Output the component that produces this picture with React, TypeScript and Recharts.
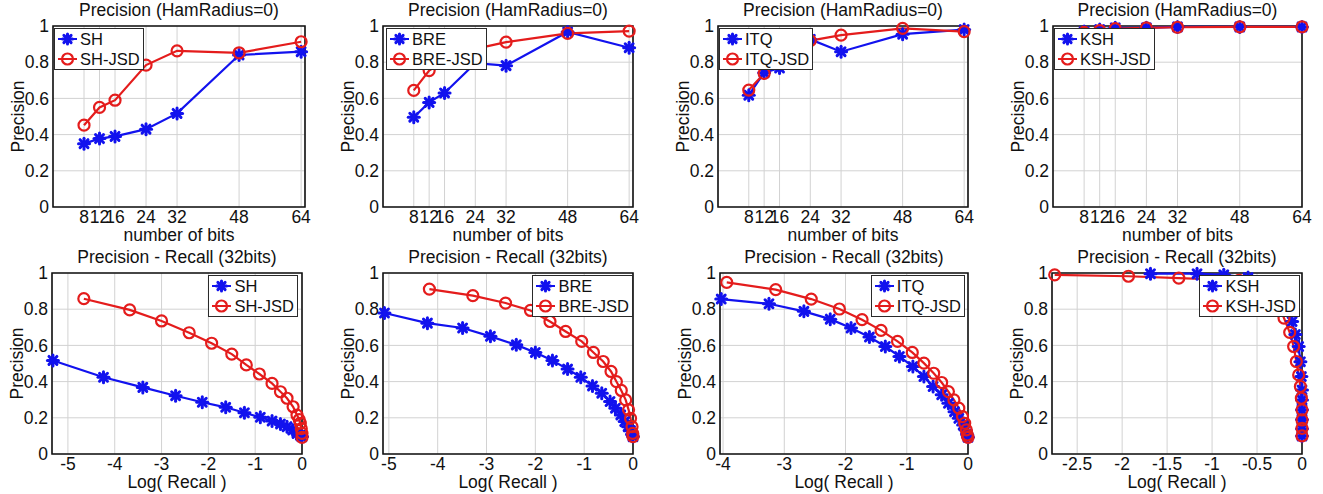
import React from 'react';
import { LineChart, Line, XAxis, YAxis, CartesianGrid, Legend, ReferenceArea } from 'recharts';

// ---- top row: precision vs number of bits (Hamming radius 0) ----
const BITS = [8, 12, 16, 24, 32, 48, 64];
const SH = [0.35, 0.378, 0.39, 0.43, 0.517, 0.84, 0.858];
const SH_JSD = [0.452, 0.55, 0.59, 0.784, 0.863, 0.852, 0.913];
const BRE = [0.496, 0.578, 0.63, 0.795, 0.781, 0.967, 0.88];
const BRE_JSD = [0.644, 0.754, 0.81, 0.874, 0.911, 0.959, 0.972];
const ITQ = [0.618, 0.742, 0.768, 0.926, 0.858, 0.955, 0.98];
const ITQ_JSD = [0.646, 0.738, 0.85, 0.919, 0.95, 0.987, 0.969];
const KSH = [0.97, 0.98, 0.99, 0.99, 0.995, 0.995, 0.995];
const KSH_JSD = [0.965, 0.975, 0.985, 0.99, 0.993, 0.995, 0.995];

// ---- bottom row: precision vs log(recall), 32 bits ----
const SH_PR_X = [-5.32, -4.24, -3.4, -2.7, -2.13, -1.63, -1.23, -0.89, -0.64, -0.46, -0.32, -0.2, -0.107, -0.036, -0.01, 0];
const SH_PR_Y = [0.517, 0.424, 0.368, 0.322, 0.286, 0.258, 0.228, 0.203, 0.182, 0.166, 0.151, 0.133, 0.114, 0.104, 0.098, 0.095];
const SH_JSD_PR_X = [-4.66, -3.68, -3.0, -2.41, -1.93, -1.5, -1.19, -0.91, -0.64, -0.46, -0.32, -0.19, -0.107, -0.06, -0.036, -0.015, 0, 0];
const SH_JSD_PR_Y = [0.858, 0.796, 0.735, 0.67, 0.612, 0.552, 0.492, 0.442, 0.39, 0.344, 0.308, 0.261, 0.215, 0.19, 0.17, 0.14, 0.114, 0.092];

const BRE_PR_X = [-5.09, -4.21, -3.49, -2.92, -2.39, -2.0, -1.65, -1.34, -1.07, -0.83, -0.64, -0.47, -0.36, -0.25, -0.17, -0.1, -0.05, -0.014, 0];
const BRE_PR_Y = [0.779, 0.723, 0.696, 0.65, 0.603, 0.561, 0.517, 0.469, 0.424, 0.376, 0.336, 0.29, 0.253, 0.216, 0.179, 0.151, 0.129, 0.111, 0.096];
const BRE_JSD_PR_X = [-4.17, -3.28, -2.61, -2.1, -1.7, -1.38, -1.05, -0.81, -0.61, -0.45, -0.34, -0.24, -0.15, -0.09, -0.05, -0.02, -0.007, 0];
const BRE_JSD_PR_Y = [0.911, 0.875, 0.834, 0.793, 0.732, 0.677, 0.622, 0.561, 0.511, 0.456, 0.4, 0.351, 0.299, 0.244, 0.197, 0.151, 0.114, 0.096];

const ITQ_PR_X = [-4.03, -3.25, -2.68, -2.25, -1.91, -1.61, -1.35, -1.12, -0.9, -0.72, -0.57, -0.43, -0.32, -0.22, -0.15, -0.08, -0.04, -0.01, 0];
const ITQ_PR_Y = [0.856, 0.83, 0.788, 0.745, 0.696, 0.646, 0.594, 0.539, 0.483, 0.428, 0.373, 0.327, 0.28, 0.234, 0.197, 0.16, 0.133, 0.105, 0.092];
const ITQ_JSD_PR_X = [-3.94, -3.14, -2.56, -2.1, -1.73, -1.42, -1.15, -0.91, -0.72, -0.56, -0.43, -0.32, -0.23, -0.15, -0.09, -0.054, -0.027, -0.01, 0];
const ITQ_JSD_PR_Y = [0.948, 0.908, 0.856, 0.801, 0.742, 0.683, 0.622, 0.561, 0.502, 0.446, 0.395, 0.345, 0.299, 0.253, 0.207, 0.17, 0.133, 0.105, 0.092];

const KSH_PR_X = [-1.685, -1.167, -0.87, -0.6, -0.35, -0.2, -0.11, -0.074, -0.037, -0.018, -0.007, 0, 0, 0, 0, 0, 0];
const KSH_PR_Y = [0.996, 0.996, 0.99, 0.975, 0.93, 0.83, 0.732, 0.66, 0.594, 0.51, 0.428, 0.354, 0.299, 0.244, 0.19, 0.14, 0.1];
const KSH_JSD_PR_X = [-2.75, -1.93, -1.37, -0.7, -0.45, -0.3, -0.2, -0.137, -0.093, -0.063, -0.037, -0.018, -0.007, 0, 0, 0, 0];
const KSH_JSD_PR_Y = [0.99, 0.982, 0.972, 0.96, 0.93, 0.86, 0.751, 0.672, 0.594, 0.511, 0.437, 0.373, 0.308, 0.244, 0.188, 0.142, 0.1];

const Y_TICKS = [0, 0.2, 0.4, 0.6, 0.8, 1];
const BITS_TICKS = [8, 12, 16, 24, 32, 48, 64];

const FONT = '"Liberation Sans", Arial, Helvetica, sans-serif';
const BLUE = '#1212ee';
const RED = '#e41c1c';
const FS = 17.5;

const YW = 48; // y axis width
const XH = 40; // x axis height
const MT = 12;
const MR = 14;

const toPoints = (xs: number[], ys: number[]) => xs.map((x, i) => ({ x, y: ys[i] }));

const starShape = (cx: number, cy: number, r = 5.5) => {
  const d = r * 0.72;
  return (
    <g stroke={BLUE} strokeWidth={3} strokeLinecap="round">
      <line x1={cx - r} y1={cy} x2={cx + r} y2={cy} />
      <line x1={cx} y1={cy - r} x2={cx} y2={cy + r} />
      <line x1={cx - d} y1={cy - d} x2={cx + d} y2={cy + d} />
      <line x1={cx - d} y1={cy + d} x2={cx + d} y2={cy - d} />
      <circle cx={cx} cy={cy} r={2.5} fill={BLUE} stroke="none" />
    </g>
  );
};

const StarDot = (props: any) => {
  const { cx, cy } = props;
  if (cx == null || cy == null) return <g />;
  return starShape(cx, cy);
};

const CircleDot = (props: any) => {
  const { cx, cy } = props;
  if (cx == null || cy == null) return <g />;
  return <circle cx={cx} cy={cy} r={5.5} fill="none" stroke={RED} strokeWidth={2.2} />;
};

type Series = { name: string; data: { x: number; y: number }[]; kind: 'star' | 'circle' };

type PanelProps = {
  plot: [number, number, number, number]; // left, right, top, bottom (page px)
  title: string;
  xLabel: string;
  xDomain: [number, number];
  xTicks: number[];
  series: Series[];
  legendLeft?: number;
  legendRight?: number;
  labelOffset: number;
};

const Panel = ({ plot, title, xLabel, xDomain, xTicks, series, legendLeft, legendRight, labelOffset }: PanelProps) => {
  const [pl, pr, pt, pb] = plot;
  const chartLeft = pl - YW;
  const chartTop = pt - MT;
  const width = pr - pl + YW + MR;
  const height = pb - pt + MT + XH;

  // legend box sits 2px below the plot top
  const legendStyle: any = { top: MT + 2, bottom: 'auto', width: 'auto', height: 'auto' };
  if (legendLeft != null) {
    legendStyle.left = legendLeft;
    legendStyle.right = 'auto';
  } else {
    legendStyle.right = (legendRight as number) + MR - 6;
    legendStyle.left = 'auto';
  }

  const renderLegend = () => (
    <div
      style={{
        background: '#fff',
        border: '1.5px solid #2a2a2a',
        padding: '0px 3px 0px 2px',
        fontFamily: FONT,
        fontSize: 16.5,
        color: '#111',
        lineHeight: '20px',
      }}
    >
      {series.map((s) => (
        <div key={s.name} style={{ display: 'flex', alignItems: 'center', height: 20 }}>
          <svg width={21} height={14} style={{ display: 'block' }}>
            <line x1={1} x2={20} y1={7} y2={7} stroke={s.kind === 'star' ? BLUE : RED} strokeWidth={2} />
            {s.kind === 'star' ? (
              starShape(10.5, 7, 5)
            ) : (
              <circle cx={10.5} cy={7} r={5.5} fill="none" stroke={RED} strokeWidth={2.2} />
            )}
          </svg>
          <span style={{ marginLeft: 2 }}>{s.name}</span>
        </div>
      ))}
    </div>
  );

  return (
    <div style={{ position: 'absolute', left: chartLeft, top: chartTop, width, height }}>
      <div
        style={{
          position: 'absolute',
          left: YW - 40,
          width: pr - pl + 80,
          top: MT - 26,
          textAlign: 'center',
          fontFamily: FONT,
          fontSize: FS,
          lineHeight: '20px',
          color: '#111',
          whiteSpace: 'nowrap',
        }}
      >
        {title}
      </div>
      <LineChart width={width} height={height} margin={{ top: MT, right: MR, left: 0, bottom: 0 }}>
        <CartesianGrid stroke="#d2d2d2" strokeWidth={1} />
        <XAxis
          type="number"
          dataKey="x"
          domain={xDomain}
          ticks={xTicks}
          interval={0}
          height={XH}
          tickLine={false}
          axisLine={false}
          tickSize={0}
          tickMargin={4}
          tick={{ fontSize: FS, fill: '#111', fontFamily: FONT }}
          label={{ value: xLabel, position: 'insideBottom', offset: labelOffset, style: { fontSize: FS, fill: '#111', fontFamily: FONT } }}
        />
        <YAxis
          type="number"
          domain={[0, 1]}
          ticks={Y_TICKS}
          interval={0}
          width={YW}
          tickLine={false}
          axisLine={false}
          tickSize={0}
          tickMargin={4}
          tick={{ fontSize: FS, fill: '#111', fontFamily: FONT }}
          label={{
            value: 'Precision',
            angle: -90,
            position: 'insideLeft',
            offset: 13,
            style: { textAnchor: 'middle', fontSize: FS, fill: '#111', fontFamily: FONT },
          }}
        />
        <ReferenceArea x1={xDomain[0]} x2={xDomain[1]} y1={0} y2={1} fill="none" stroke="#111" strokeWidth={1.6} />
        {series.map((s) => (
          <Line
            key={s.name}
            data={s.data}
            dataKey="y"
            name={s.name}
            type="linear"
            stroke={s.kind === 'star' ? BLUE : RED}
            strokeWidth={2.2}
            dot={s.kind === 'star' ? StarDot : CircleDot}
            activeDot={false}
            isAnimationActive={false}
          />
        ))}
        <Legend layout="vertical" align="center" verticalAlign="middle" wrapperStyle={legendStyle} content={renderLegend} />
      </LineChart>
    </div>
  );
};

const TOP_TITLE = 'Precision (HamRadius=0)';
const BOTTOM_TITLE = 'Precision - Recall (32bits)';

const bitsSeries = (name: string, a: number[], b: number[]): Series[] => [
  { name, data: toPoints(BITS, a), kind: 'star' },
  { name: name + '-JSD', data: toPoints(BITS, b), kind: 'circle' },
];

export default function App() {
  return (
    <div style={{ position: 'absolute', left: 0, top: 0, width: 1323, height: 494, background: '#fff', overflow: 'hidden' }}>
      <Panel plot={[53, 305, 26, 207]} title={TOP_TITLE} xLabel="number of bits" xDomain={[0, 65]} xTicks={BITS_TICKS} series={bitsSeries('SH', SH, SH_JSD)} legendLeft={49} labelOffset={6} />
      <Panel plot={[383, 633, 26, 207]} title={TOP_TITLE} xLabel="number of bits" xDomain={[0, 65]} xTicks={BITS_TICKS} series={bitsSeries('BRE', BRE, BRE_JSD)} legendLeft={51} labelOffset={6} />
      <Panel plot={[718, 968, 26, 207]} title={TOP_TITLE} xLabel="number of bits" xDomain={[0, 65]} xTicks={BITS_TICKS} series={bitsSeries('ITQ', ITQ, ITQ_JSD)} legendLeft={49} labelOffset={6} />
      <Panel plot={[1053, 1302, 26, 207]} title={TOP_TITLE} xLabel="number of bits" xDomain={[0, 64]} xTicks={BITS_TICKS} series={bitsSeries('KSH', KSH, KSH_JSD)} legendLeft={49} labelOffset={6} />

      <Panel
        plot={[52, 302, 273, 454]}
        title={BOTTOM_TITLE}
        xLabel="Log( Recall )"
        xDomain={[-5.34, 0]}
        xTicks={[-5, -4, -3, -2, -1, 0]}
        series={[
          { name: 'SH', data: toPoints(SH_PR_X, SH_PR_Y), kind: 'star' },
          { name: 'SH-JSD', data: toPoints(SH_JSD_PR_X, SH_JSD_PR_Y), kind: 'circle' },
        ]}
        legendRight={10}
        labelOffset={6}
      />
      <Panel
        plot={[383, 633, 273, 454]}
        title={BOTTOM_TITLE}
        xLabel="Log( Recall )"
        xDomain={[-5.12, 0]}
        xTicks={[-5, -4, -3, -2, -1, 0]}
        series={[
          { name: 'BRE', data: toPoints(BRE_PR_X, BRE_PR_Y), kind: 'star' },
          { name: 'BRE-JSD', data: toPoints(BRE_JSD_PR_X, BRE_JSD_PR_Y), kind: 'circle' },
        ]}
        legendRight={6}
        labelOffset={6}
      />
      <Panel
        plot={[720, 968, 273, 454]}
        title={BOTTOM_TITLE}
        xLabel="Log( Recall )"
        xDomain={[-4.05, 0]}
        xTicks={[-4, -3, -2, -1, 0]}
        series={[
          { name: 'ITQ', data: toPoints(ITQ_PR_X, ITQ_PR_Y), kind: 'star' },
          { name: 'ITQ-JSD', data: toPoints(ITQ_JSD_PR_X, ITQ_JSD_PR_Y), kind: 'circle' },
        ]}
        legendRight={9}
        labelOffset={6}
      />
      <Panel
        plot={[1052, 1302, 273, 454]}
        title={BOTTOM_TITLE}
        xLabel="Log( Recall )"
        xDomain={[-2.78, 0]}
        xTicks={[-2.5, -2, -1.5, -1, -0.5, 0]}
        series={[
          { name: 'KSH', data: toPoints(KSH_PR_X, KSH_PR_Y), kind: 'star' },
          { name: 'KSH-JSD', data: toPoints(KSH_JSD_PR_X, KSH_JSD_PR_Y), kind: 'circle' },
        ]}
        legendRight={8}
        labelOffset={6}
      />
    </div>
  );
}
